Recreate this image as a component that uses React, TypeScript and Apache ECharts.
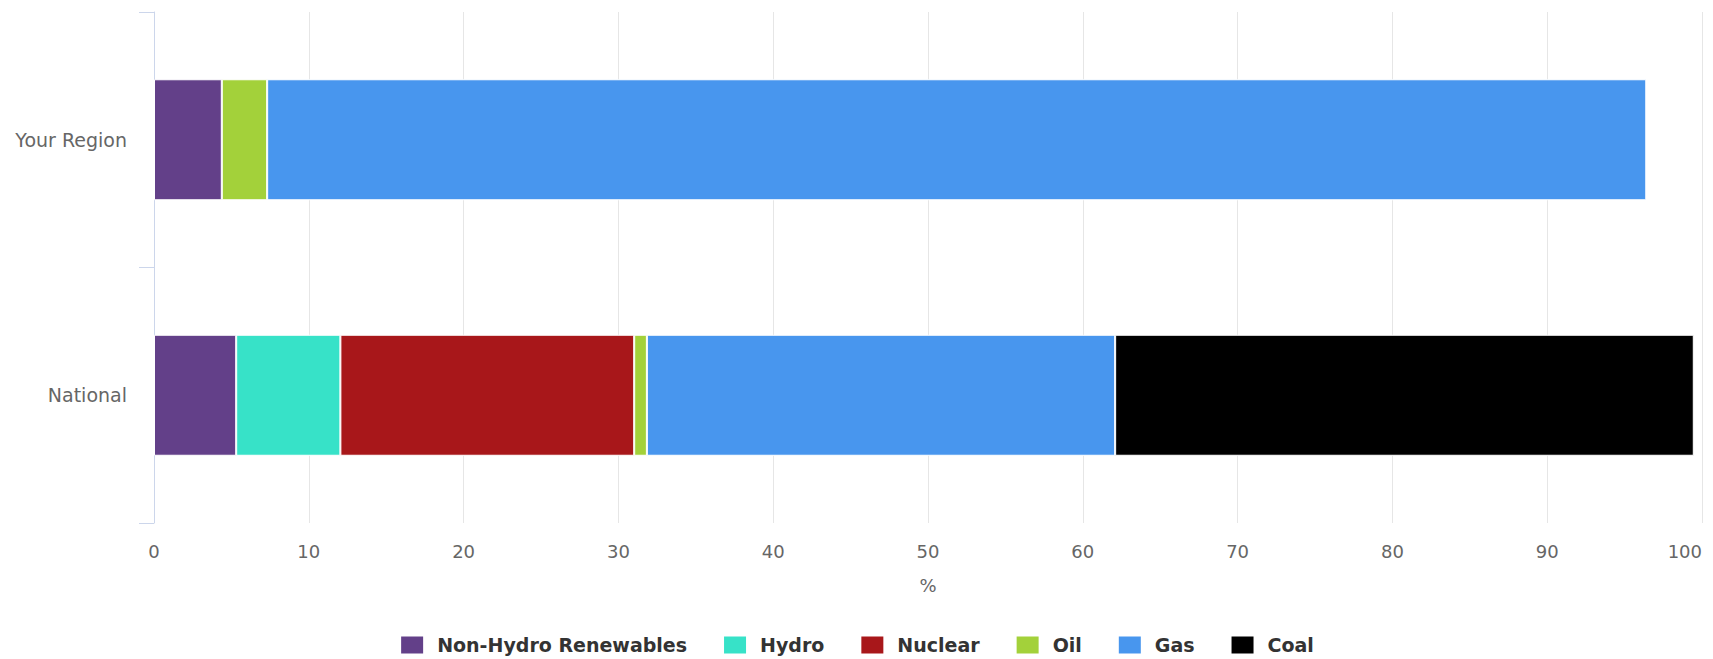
import React, { useEffect, useRef } from "react";
import * as echarts from "echarts";

const categories = ["Your Region", "National"];
const seriesNames = ["Non-Hydro Renewables", "Hydro", "Nuclear", "Oil", "Gas", "Coal"];
const nonHydro = [4.38, 5.31];
const hydro = [null, 6.73];
const nuclear = [null, 18.98];
const oil = [2.93, 0.82];
const gas = [89.09, 30.25];
const coal = [null, 37.38];
const xTicks = [0, 10, 20, 30, 40, 50, 60, 70, 80, 90, 100];
const colors = ["#634089", "#37e2c8", "#a8171a", "#a3d13a", "#4896ee", "#000000"];

export default function App() {
  const ref = useRef<HTMLDivElement>(null);
  useEffect(() => {
    document.body.style.margin = "0";
    const chart = echarts.init(ref.current!, null, { renderer: "svg" });
    const values = [nonHydro, hydro, nuclear, oil, gas, coal];
    chart.setOption({
      animation: false,
      color: colors,
      grid: { left: 154, right: 11, top: 12, bottom: 136, containLabel: false },
      legend: {
        data: seriesNames,
        left: "center",
        top: 634,
        padding: 0,
        icon: "rect",
        itemWidth: 24,
        itemHeight: 19,
        itemGap: 35,
        textStyle: {
          fontFamily: "DejaVu Sans",
          fontWeight: "bold",
          fontSize: 19,
          lineHeight: 22,
          color: "#333333",
          padding: [0, 0, 0, 8],
        },
      },
      xAxis: {
        type: "value",
        min: xTicks[0],
        max: xTicks[xTicks.length - 1],
        interval: 10,
        name: "%",
        nameLocation: "middle",
        nameGap: 53,
        nameTextStyle: { fontFamily: "DejaVu Sans", fontSize: 18, color: "#666666" },
        axisLine: { show: false },
        axisTick: { show: false },
        axisLabel: {
          margin: 19,
          fontFamily: "DejaVu Sans",
          fontSize: 18,
          color: "#666666",
          alignMaxLabel: "right",
        },
        splitLine: { show: true, lineStyle: { color: "#e6e6e6", width: 1 } },
      },
      yAxis: {
        type: "category",
        data: categories,
        inverse: true,
        axisLine: { show: true, lineStyle: { color: "#ccd6eb", width: 1 } },
        axisTick: { show: true, length: 15, lineStyle: { color: "#ccd6eb" } },
        axisLabel: { margin: 27, fontFamily: "DejaVu Sans", fontSize: 19, color: "#666666" },
        splitLine: { show: false },
      },
      series: seriesNames.map((name, i) => ({
        name,
        type: "bar",
        stack: "total",
        barWidth: 121,
        data: values[i],
        itemStyle: { color: colors[i], borderColor: "#ffffff", borderWidth: 1 },
      })),
    });
    return () => chart.dispose();
  }, []);
  return <div ref={ref} style={{ width: 1713, height: 659 }} />;
}
